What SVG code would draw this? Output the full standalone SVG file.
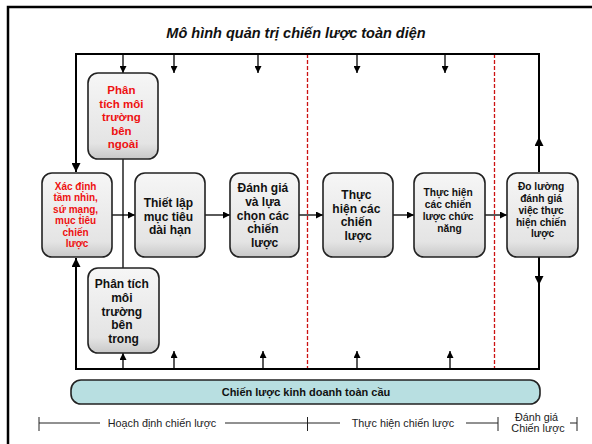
<svg xmlns="http://www.w3.org/2000/svg" width="592" height="444" viewBox="0 0 592 444">
  <defs>
    <linearGradient id="boxFill" x1="0" y1="0" x2="0" y2="1">
      <stop offset="0" stop-color="#f6f6f6"/>
      <stop offset="0.82" stop-color="#e4e4e4"/>
      <stop offset="1" stop-color="#c8c8c8"/>
    </linearGradient>
    <marker id="arr" viewBox="0 0 10 10" refX="10" refY="5" markerWidth="7" markerHeight="7" markerUnits="userSpaceOnUse" orient="auto">
      <path d="M0,0 L10,5 L0,10 z" fill="#000"/>
    </marker>
    <marker id="arrBig" viewBox="0 0 10 10" refX="10" refY="5" markerWidth="9" markerHeight="9" markerUnits="userSpaceOnUse" orient="auto">
      <path d="M0,0 L10,5 L0,10 z" fill="#000"/>
    </marker>
  </defs>
  <style>
    .box { fill: url(#boxFill); stroke: #222; stroke-width: 1.6; }
    .t { font-family: "Liberation Sans", Arial, sans-serif; font-weight: bold; text-anchor: middle; fill: #111; }
    .red { fill: #ee1111; }
    .line { stroke: #000; stroke-width: 1.3; fill: none; }
    .thick { stroke: #000; stroke-width: 2; fill: none; }
    .dash { stroke: #cc1111; stroke-width: 1.3; stroke-dasharray: 4 2; fill: none; }
    .tl { stroke: #222; stroke-width: 1; fill: none; }
    .lbl { font-family: "Liberation Sans", Arial, sans-serif; font-size: 10.8px; fill: #222; text-anchor: middle; }
  </style>

  <rect width="592" height="444" fill="#fff"/>

  <!-- outer frame (runs off the right and bottom edge) -->
  <path d="M8,450 L8,7 L600,7" stroke="#000" stroke-width="2.5" fill="none"/>

  <text x="296" y="38" class="t" font-size="14.5" font-style="italic">Mô hình quản trị chiến lược toàn diện</text>

  <!-- phase separators -->
  <g id="separators">
    <line x1="307.5" y1="54" x2="307.5" y2="369" class="dash"/>
    <line x1="494.5" y1="54" x2="494.5" y2="369" class="dash"/>
  </g>

  <!-- connectors -->
  <g id="connectors">
    <!-- top feedback loop -->
    <path d="M539,172 L539,54 L76,54 L76,172" class="thick" marker-end="url(#arrBig)"/>
    <line x1="539" y1="150" x2="539" y2="137" class="thick" marker-end="url(#arrBig)"/>
    <line x1="123" y1="54" x2="123" y2="73" class="line" marker-end="url(#arr)"/>
    <line x1="174" y1="54" x2="174" y2="73" class="line" marker-end="url(#arr)"/>
    <line x1="258" y1="54" x2="258" y2="73" class="line" marker-end="url(#arr)"/>
    <line x1="357" y1="54" x2="357" y2="73" class="line" marker-end="url(#arr)"/>
    <line x1="445" y1="54" x2="445" y2="73" class="line" marker-end="url(#arr)"/>

    <!-- bottom feedback loop -->
    <path d="M539,257 L539,369 L76,369 L76,258" class="thick" marker-end="url(#arrBig)"/>
    <line x1="539" y1="270" x2="539" y2="285" class="thick" marker-end="url(#arrBig)"/>
    <line x1="123" y1="369" x2="123" y2="353" class="line" marker-end="url(#arr)"/>
    <line x1="174" y1="369" x2="174" y2="351" class="line" marker-end="url(#arr)"/>
    <line x1="263" y1="369" x2="263" y2="351" class="line" marker-end="url(#arr)"/>
    <line x1="357" y1="369" x2="357" y2="351" class="line" marker-end="url(#arr)"/>
    <line x1="450" y1="369" x2="450" y2="351" class="line" marker-end="url(#arr)"/>

    <!-- external / internal analysis link -->
    <line x1="123" y1="159" x2="123" y2="268" class="line"/>

    <!-- main flow -->
    <line x1="112" y1="215" x2="135" y2="215" class="line" marker-end="url(#arr)"/>
    <line x1="205" y1="215" x2="230" y2="215" class="line" marker-end="url(#arr)"/>
    <line x1="299" y1="215" x2="323" y2="215" class="line" marker-end="url(#arr)"/>
    <line x1="393" y1="215" x2="414" y2="215" class="line" marker-end="url(#arr)"/>
    <line x1="485" y1="215" x2="507" y2="215" class="line" marker-end="url(#arr)"/>
  </g>

  <!-- nodes -->
  <g id="external">
    <rect x="88" y="73" width="70" height="86" rx="10" class="box"/>
    <text class="t red" font-size="11.5">
      <tspan x="123" y="94">Phân</tspan>
      <tspan x="123" y="107.5">tích môi</tspan>
      <tspan x="123" y="121">trường</tspan>
      <tspan x="123" y="134.5">bên</tspan>
      <tspan x="123" y="148">ngoài</tspan>
    </text>
  </g>

  <g id="mission">
    <rect x="42" y="173" width="70" height="84" rx="10" class="box"/>
    <text class="t red" font-size="10">
      <tspan x="77" y="189.5">Xác định</tspan>
      <tspan x="77" y="201">tầm nhìn,</tspan>
      <tspan x="77" y="212.5">sứ mạng,</tspan>
      <tspan x="77" y="224">mục tiêu</tspan>
      <tspan x="77" y="235.5">chiến</tspan>
      <tspan x="77" y="247">lược</tspan>
    </text>
  </g>

  <g id="objectives">
    <rect x="135" y="173" width="70" height="84" rx="10" class="box"/>
    <text class="t" font-size="12">
      <tspan x="170" y="207">Thiết lập</tspan>
      <tspan x="170" y="220.5">mục tiêu</tspan>
      <tspan x="170" y="234">dài hạn</tspan>
    </text>
  </g>

  <g id="choice">
    <rect x="230" y="173" width="69" height="84" rx="10" class="box"/>
    <text class="t" font-size="12">
      <tspan x="264.5" y="192">Đánh giá</tspan>
      <tspan x="264.5" y="206">và lựa</tspan>
      <tspan x="264.5" y="219.5">chọn các</tspan>
      <tspan x="264.5" y="233">chiến</tspan>
      <tspan x="264.5" y="246.5">lược</tspan>
    </text>
  </g>

  <g id="implement">
    <rect x="323" y="173" width="70" height="84" rx="10" class="box"/>
    <text class="t" font-size="12">
      <tspan x="358" y="199">Thực</tspan>
      <tspan x="358" y="212.5">hiện các</tspan>
      <tspan x="358" y="226">chiến</tspan>
      <tspan x="358" y="240">lược</tspan>
    </text>
  </g>

  <g id="functional">
    <rect x="414" y="173" width="71" height="84" rx="10" class="box"/>
    <text class="t" font-size="10.2">
      <tspan x="449.5" y="195.5">Thực hiện</tspan>
      <tspan x="449.5" y="207.5">các chiến</tspan>
      <tspan x="449.5" y="219.5">lược chức</tspan>
      <tspan x="449.5" y="231.5">năng</tspan>
    </text>
  </g>

  <g id="evaluate">
    <rect x="507" y="173" width="71" height="84" rx="10" class="box"/>
    <text class="t" font-size="10.2">
      <tspan x="542.5" y="189.5">Đo lường</tspan>
      <tspan x="542.5" y="201.5">đánh giá</tspan>
      <tspan x="542.5" y="213.5">việc thực</tspan>
      <tspan x="542.5" y="225.5">hiện chiến</tspan>
      <tspan x="542.5" y="237">lược</tspan>
    </text>
  </g>

  <g id="internal">
    <rect x="88" y="268" width="71" height="85" rx="10" class="box"/>
    <text class="t" font-size="12">
      <tspan x="123.5" y="288">Phân tích</tspan>
      <tspan x="123.5" y="302">môi</tspan>
      <tspan x="123.5" y="315.5">trường</tspan>
      <tspan x="123.5" y="329">bên</tspan>
      <tspan x="123.5" y="343">trong</tspan>
    </text>
  </g>

  <g id="global">
    <rect x="71" y="380" width="469" height="24" rx="10" fill="#b8dfe1" stroke="#222" stroke-width="1.6"/>
    <text x="306" y="396" class="t" font-size="11">Chiến lược kinh doanh toàn cầu</text>
  </g>

  <!-- phase timeline -->
  <g id="timeline">
    <line x1="39" y1="417" x2="39" y2="431" class="tl"/>
    <line x1="39" y1="423" x2="100" y2="423" class="tl"/>
    <text x="162" y="427" class="lbl">Hoạch định chiến lược</text>
    <line x1="225" y1="423" x2="340" y2="423" class="tl"/>
    <line x1="307.5" y1="417" x2="307.5" y2="431" class="tl"/>
    <text x="403" y="427" class="lbl">Thực hiện chiến lược</text>
    <line x1="466" y1="423" x2="498" y2="423" class="tl"/>
    <line x1="498" y1="417" x2="498" y2="431" class="tl"/>
    <text class="lbl" font-size="9.5">
      <tspan x="538" y="421">Đánh giá</tspan>
      <tspan x="538" y="432">Chiến lược</tspan>
    </text>
    <line x1="570" y1="423" x2="577" y2="423" class="tl"/>
    <line x1="577" y1="417" x2="577" y2="431" class="tl"/>
  </g>
</svg>
